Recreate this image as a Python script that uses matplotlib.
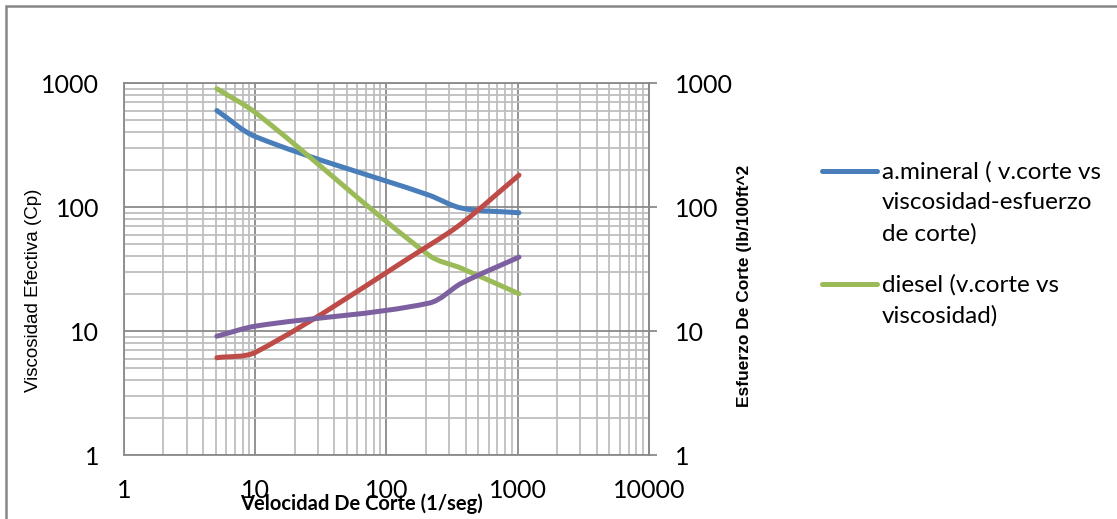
import numpy as np
import matplotlib
matplotlib.use("Agg")
import matplotlib.pyplot as plt
from matplotlib.path import Path
from matplotlib.patches import PathPatch, Rectangle
from matplotlib.lines import Line2D
from matplotlib.legend_handler import HandlerLine2D

# shear rate (1/seg)
velocidad = [5.1, 10.2, 210, 375, 1022]
# effective viscosity (Cp) - left axis
a_mineral = [600, 367, 125, 98, 90]
diesel = [900, 570, 41, 32, 20]
# shear stress (lb/100ft^2) - right axis
esfuerzo_mineral = [6.1, 6.8, 49, 74, 181]
esfuerzo_diesel = [9.1, 11.0, 16.8, 24.4, 39.5]

c_blue = "#4A7EBB"
c_green = "#9BBB59"
c_red = "#BE4B48"
c_purple = "#7D60A0"

plt.rcParams['font.family'] = ['Lato', 'DejaVu Sans']

LEG_FS = 17.5
LEG_LS = 1.56


def smooth_line(ax, xs, ys, color):
    # smoothed line like excel, bezier control points worked out in log space
    p = np.column_stack([np.log10(xs), np.log10(ys)])
    n = len(p)
    verts = [p[0]]
    codes = [Path.MOVETO]
    for i in range(n - 1):
        d = p[i + 1] - p[i]
        L = np.hypot(*d)
        t0 = p[i + 1] - (p[i - 1] if i > 0 else p[i])
        t1 = (p[i + 2] if i + 2 < n else p[i + 1]) - p[i]
        t0 = t0 / np.hypot(*t0)
        t1 = t1 / np.hypot(*t1)
        verts.append(p[i] + t0 * L / 3)
        verts.append(p[i + 1] - t1 * L / 3)
        verts.append(p[i + 1])
        codes += [Path.CURVE4] * 3
    path = Path(10 ** np.array(verts), codes)
    ax.add_patch(PathPatch(path, facecolor='none', edgecolor=color, lw=3.6,
                           capstyle='round', joinstyle='round', zorder=3))


class FirstLineHandler(HandlerLine2D):
    # put the legend key next to the first line of a wrapped label
    def __init__(self, nlines, **kw):
        super().__init__(**kw)
        self.nlines = nlines

    def create_artists(self, legend, orig_handle, xdescent, ydescent, width,
                       height, fontsize, trans):
        arts = super().create_artists(legend, orig_handle, xdescent, ydescent,
                                      width, height, fontsize, trans)
        shift = (self.nlines - 1) / 2 * 32 * 0.72
        for a in arts:
            a.set_ydata(np.asarray(a.get_ydata()) + shift)
        return arts


fig = plt.figure(figsize=(11.17, 5.19), dpi=100)
ax = fig.add_axes([0.111, 0.123, 0.470, 0.717])
ax2 = ax.twinx()

for a in (ax, ax2):
    a.set_xscale('log')
    a.set_yscale('log')
    a.set_xlim(1, 10000)
    a.set_ylim(1, 1000)

smooth_line(ax, velocidad, a_mineral, c_blue)
smooth_line(ax, velocidad, diesel, c_green)
smooth_line(ax2, velocidad, esfuerzo_mineral, c_red)
smooth_line(ax2, velocidad, esfuerzo_diesel, c_purple)

ax.grid(True, which='major', color='#8A8A8A', lw=1.3)
ax.grid(True, which='minor', color='#BEBEBE', lw=1.3)
ax.set_axisbelow(True)

for s in ax.spines.values():
    s.set_color('#8A8A8A')
    s.set_linewidth(1.3)
for s in ax2.spines.values():
    s.set_visible(False)
ax2.spines['right'].set_visible(True)
ax2.spines['right'].set_color('#8A8A8A')
ax2.spines['right'].set_linewidth(1.3)

ax.tick_params(axis='both', which='both', length=0, labelsize=18, colors='black')
ax.tick_params(axis='y', pad=18)
ax.tick_params(axis='x', pad=17)
ax2.tick_params(axis='y', which='minor', length=0)
ax2.tick_params(axis='y', which='major', length=6, width=1.3, color='#8A8A8A',
                labelsize=18, pad=13)

tk_x = [1, 10, 100, 1000, 10000]
tk_y = [1, 10, 100, 1000]
ax.set_xticks(tk_x, [str(t) for t in tk_x])
ax.set_yticks(tk_y, [str(t) for t in tk_y])
ax2.set_yticks(tk_y, [str(t) for t in tk_y])

ax.set_xlabel('Velocidad De Corte (1/seg)', fontsize=14.5, fontweight='bold',
              ha='left', va='baseline')
ax.xaxis.set_label_coords(0.221, -0.148)
ax.set_ylabel('Viscosidad Efectiva (Cp)', fontsize=13.5,
              family=['Liberation Sans', 'DejaVu Sans'])
ax.yaxis.set_label_coords(-0.156, 0.444)
ax2.set_ylabel('Esfuerzo De Corte (lb/100ft^2', fontsize=12.5, fontweight='bold',
               family=['Liberation Sans', 'DejaVu Sans'])
ax2.yaxis.set_label_coords(1.167, 0.455)

handles = [Line2D([], [], color=c_blue, lw=3.6, solid_capstyle='round'),
           Line2D([], [], color=c_green, lw=3.6, solid_capstyle='round')]
labels = ['a.mineral ( v.corte vs\nviscosidad-esfuerzo\nde corte)',
          'diesel (v.corte vs\nviscosidad)']
leg = fig.legend(handles, labels, loc='upper left', bbox_to_anchor=(0.736, 0.69),
                 frameon=False, fontsize=LEG_FS, handlelength=2.26,
                 handletextpad=0.2, labelspacing=1.21, borderpad=0,
                 borderaxespad=0,
                 handler_map={handles[0]: FirstLineHandler(3),
                              handles[1]: FirstLineHandler(2)})
for t in leg.get_texts():
    t.set_linespacing(LEG_LS)

# chart area border (only left and top show)
fig.patches.append(Rectangle((0.0054, -0.2), 2, 0.2 + 0.988,
                             transform=fig.transFigure, fill=False,
                             edgecolor='#878787', lw=1.8))

fig.savefig('out.png', dpi=100)
